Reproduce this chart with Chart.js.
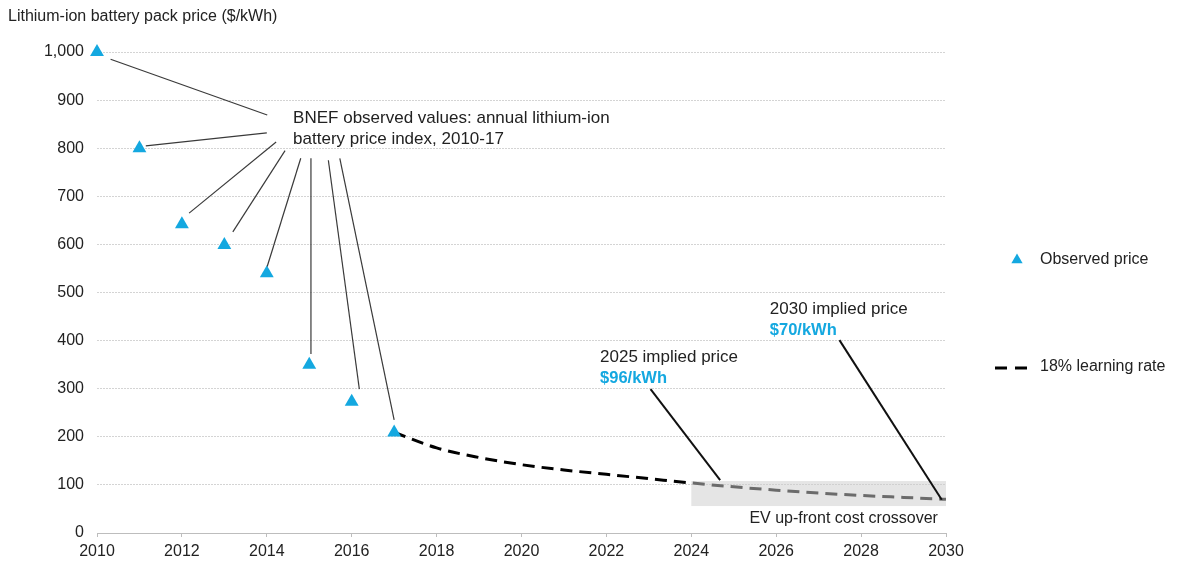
<!DOCTYPE html>
<html><head><meta charset="utf-8">
<script src="https://cdn.jsdelivr.net/npm/chart.js@4.4.0/dist/chart.umd.min.js"></script>
<style>html,body{margin:0;padding:0;background:#fff;}#wrap{width:1183px;height:565px;position:relative}</style>
</head><body><div id="wrap"><canvas id="c" width="1183" height="565"></canvas></div>
<script>
// ---- data ----
const obsYears = [2010, 2011, 2012, 2013, 2014, 2015, 2016, 2017];
const obsPrices = [1000, 800, 642, 599, 540, 350, 273, 209];
const lrYears = [2017, 2018, 2019, 2020, 2021, 2022, 2023, 2024, 2025, 2026, 2027, 2028, 2029, 2030];
const lrPrices = [209, 177, 157, 142, 131, 122, 113, 104, 96, 89, 83, 78, 74, 70];
const yTickValues = [0, 100, 200, 300, 400, 500, 600, 700, 800, 900, 1000];
const xTickValues = [2010, 2012, 2014, 2016, 2018, 2020, 2022, 2024, 2026, 2028, 2030];
const seriesNames = ['Observed price', '18% learning rate'];
const yTitle = 'Lithium-ion battery pack price ($/kWh)';

const BLUE = '#14a8e0';
const TXT = '#222222';
const FONT = '"Liberation Sans", Arial, sans-serif';

// annotation geometry in data units
const crossoverBox = {x1: 2024, x2: 2030, y1: 56, y2: 108};
const bnefLeaders = [
  [2010.32, 985, 2014.01, 869],
  [2011.15, 805, 2014.00, 832],
  [2012.17, 665, 2014.22, 813],
  [2013.20, 626, 2014.43, 795],
  [2014.01, 554, 2014.80, 779],
  [2015.04, 372, 2015.04, 779],
  [2016.18, 299, 2015.45, 775],
  [2017.00, 235, 2015.72, 779]
];
const impliedLeaders = [
  [2023.04, 299, 2024.68, 110],
  [2027.49, 401, 2029.90, 69]
];

const annotPlugin = {
  id: 'annot',
  afterDatasetsDraw(chart) {
    const {ctx, scales: {x, y}} = chart;
    const X = v => x.getPixelForValue(v), Y = v => y.getPixelForValue(v);
    ctx.save();
    // crossover box (semi-transparent over the dashed line)
    ctx.fillStyle = 'rgba(206,206,206,0.52)';
    ctx.fillRect(X(crossoverBox.x1), Y(crossoverBox.y2), X(crossoverBox.x2) - X(crossoverBox.x1), Y(crossoverBox.y1) - Y(crossoverBox.y2));
    // leaders
    ctx.strokeStyle = '#3a3a3a'; ctx.lineWidth = 1.2;
    bnefLeaders.forEach(l => { ctx.beginPath(); ctx.moveTo(X(l[0]), Y(l[1])); ctx.lineTo(X(l[2]), Y(l[3])); ctx.stroke(); });
    ctx.strokeStyle = '#111'; ctx.lineWidth = 2;
    impliedLeaders.forEach(l => { ctx.beginPath(); ctx.moveTo(X(l[0]), Y(l[1])); ctx.lineTo(X(l[2]), Y(l[3])); ctx.stroke(); });
    // texts
    ctx.textBaseline = 'middle';
    ctx.textAlign = 'left';
    ctx.fillStyle = TXT;
    ctx.font = '17px ' + FONT;
    ctx.fillText('BNEF observed values: annual lithium-ion', X(2014.62), Y(863));
    ctx.fillText('battery price index, 2010-17', X(2014.62), Y(819));
    ctx.fillText('2025 implied price', X(2021.85), Y(366));
    ctx.fillText('2030 implied price', X(2025.85), Y(466));
    ctx.fillStyle = BLUE;
    ctx.font = 'bold 16.5px ' + FONT;
    ctx.fillText('$96/kWh', X(2021.85), Y(322));
    ctx.fillText('$70/kWh', X(2025.85), Y(422));
    ctx.fillStyle = TXT;
    ctx.font = '16px ' + FONT;
    ctx.textAlign = 'right';
    ctx.fillText('EV up-front cost crossover', X(2029.81), Y(29));
    ctx.restore();
  },
  afterDraw(chart) {
    const {ctx, chartArea} = chart;
    ctx.save();
    // axis title
    ctx.fillStyle = TXT; ctx.font = '16px ' + FONT;
    ctx.textBaseline = 'middle'; ctx.textAlign = 'left';
    ctx.fillText(yTitle, 8, 17);
    // legend
    const lx = chartArea.right;
    ctx.font = '16px ' + FONT;
    const tx = lx + 71, ty = 260, r = 6.5;
    ctx.fillStyle = BLUE;
    ctx.beginPath();
    ctx.moveTo(tx, ty - r);
    ctx.lineTo(tx + r * Math.sin(Math.PI * 2 / 3), ty + r * 0.5);
    ctx.lineTo(tx - r * Math.sin(Math.PI * 2 / 3), ty + r * 0.5);
    ctx.closePath(); ctx.fill();
    ctx.fillStyle = TXT;
    ctx.fillText(seriesNames[0], lx + 94, 260);
    ctx.strokeStyle = '#000'; ctx.lineWidth = 3; ctx.setLineDash([12, 8]);
    ctx.beginPath(); ctx.moveTo(lx + 49, 368); ctx.lineTo(lx + 85, 368); ctx.stroke();
    ctx.setLineDash([]);
    ctx.fillText(seriesNames[1], lx + 94, 367);
    ctx.restore();
  }
};

const chart = new Chart(document.getElementById('c'), {
  type: 'scatter',
  data: {
    datasets: [
      {
        label: seriesNames[1],
        data: lrYears.map((yr, i) => ({x: yr, y: lrPrices[i]})),
        showLine: true,
        borderColor: '#000',
        borderWidth: 3,
        borderDash: [12, 7],
        pointRadius: 0,
        cubicInterpolationMode: 'monotone',
        clip: false,
        order: 2
      },
      {
        label: seriesNames[0],
        data: obsYears.map((yr, i) => ({x: yr, y: obsPrices[i]})),
        pointStyle: 'triangle',
        pointRadius: 8,
        pointHoverRadius: 8,
        backgroundColor: BLUE,
        borderColor: BLUE,
        borderWidth: 0,
        showLine: false,
        clip: false,
        order: 1
      }
    ]
  },
  options: {
    responsive: false,
    animation: false,
    events: [],
    layout: {padding: {top: 52, right: 237, left: 0, bottom: 0}},
    plugins: {legend: {display: false}, tooltip: {enabled: false}},
    scales: {
      x: {
        type: 'linear', min: 2010, max: 2030,
        afterBuildTicks: s => { s.ticks = xTickValues.map(v => ({value: v})); },
        afterFit: s => { s.height = 32; },
        ticks: {color: TXT, font: {family: FONT, size: 16}, padding: 5, maxRotation: 0, callback: v => String(v)},
        grid: {drawOnChartArea: false, drawTicks: true, tickLength: 4, color: '#bdbdbd'},
        border: {display: true, color: '#bdbdbd', width: 1}
      },
      y: {
        min: 0, max: 1000,
        afterBuildTicks: s => { s.ticks = yTickValues.map(v => ({value: v})); },
        afterFit: s => { s.width = 97; },
        ticks: {color: TXT, font: {family: FONT, size: 16}, padding: 13, callback: v => v.toLocaleString('en-US')},
        grid: {drawTicks: false, color: '#d4d4d4', lineWidth: 1},
        border: {display: false, dash: [2, 1]}
      }
    }
  },
  plugins: [annotPlugin]
});
</script></body></html>
